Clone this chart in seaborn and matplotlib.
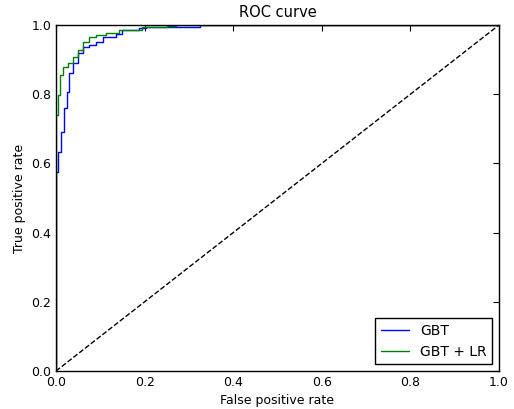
import matplotlib
matplotlib.use("Agg")
import matplotlib.pyplot as plt
import seaborn as sns
import pandas as pd

gbt_fpr = [0.0, 0.0, 0.004, 0.011, 0.019, 0.024, 0.03, 0.038, 0.049, 0.06, 0.075, 0.09, 0.105, 0.135, 0.15, 0.188, 0.203, 0.325, 1.0]
gbt_tpr = [0.0, 0.576, 0.634, 0.69, 0.76, 0.807, 0.86, 0.889, 0.918, 0.937, 0.942, 0.952, 0.966, 0.973, 0.986, 0.99, 0.995, 1.0, 1.0]

lr_fpr = [0.0, 0.0, 0.0, 0.004, 0.009, 0.015, 0.026, 0.038, 0.049, 0.06, 0.075, 0.09, 0.113, 0.143, 0.195, 0.25, 0.27, 1.0]
lr_tpr = [0.0, 0.663, 0.74, 0.798, 0.855, 0.879, 0.889, 0.908, 0.928, 0.952, 0.964, 0.971, 0.976, 0.986, 0.993, 0.996, 1.0, 1.0]

sns.set_style("white")
plt.rcParams['font.family'] = ['DejaVu Sans']
plt.rcParams['xtick.direction'] = 'in'
plt.rcParams['ytick.direction'] = 'in'
plt.rcParams['text.color'] = 'black'
plt.rcParams['axes.labelcolor'] = 'black'
plt.rcParams['xtick.color'] = 'black'
plt.rcParams['ytick.color'] = 'black'

fig = plt.figure(figsize=(5.14, 4.09), dpi=100)
ax = fig.add_axes([56/514, 1-371/409, (499-56)/514, (371-25)/409])

df1 = pd.DataFrame({"fpr": gbt_fpr, "tpr": gbt_tpr})
df2 = pd.DataFrame({"fpr": lr_fpr, "tpr": lr_tpr})

ax.plot([0, 1], [0, 1], 'k--', lw=1)
sns.lineplot(data=df1, x="fpr", y="tpr", ax=ax, color=(0, 0, 1), lw=1,
             estimator=None, sort=False, drawstyle='steps-post', label="GBT")
sns.lineplot(data=df2, x="fpr", y="tpr", ax=ax, color=(0, 0.5, 0), lw=1,
             estimator=None, sort=False, drawstyle='steps-post', label="GBT + LR")

ax.set_xlim(0, 1)
ax.set_ylim(0, 1)
ax.set_xticks([0, 0.2, 0.4, 0.6, 0.8, 1.0])
ax.set_yticks([0, 0.2, 0.4, 0.6, 0.8, 1.0])
ax.tick_params(axis='both', labelsize=9, top=True, right=True, length=4, width=0.8, color='black')
for s in ax.spines.values():
    s.set_color('black')
    s.set_linewidth(1)
ax.set_xlabel("False positive rate", fontsize=9)
ax.set_ylabel("True positive rate", fontsize=9)
ax.set_title("ROC curve", fontsize=10.5)
leg = ax.legend(loc="lower right", fontsize=10, fancybox=False, frameon=True, edgecolor='black', framealpha=1)
leg.get_frame().set_linewidth(1)

fig.savefig("out.png", dpi=100)
